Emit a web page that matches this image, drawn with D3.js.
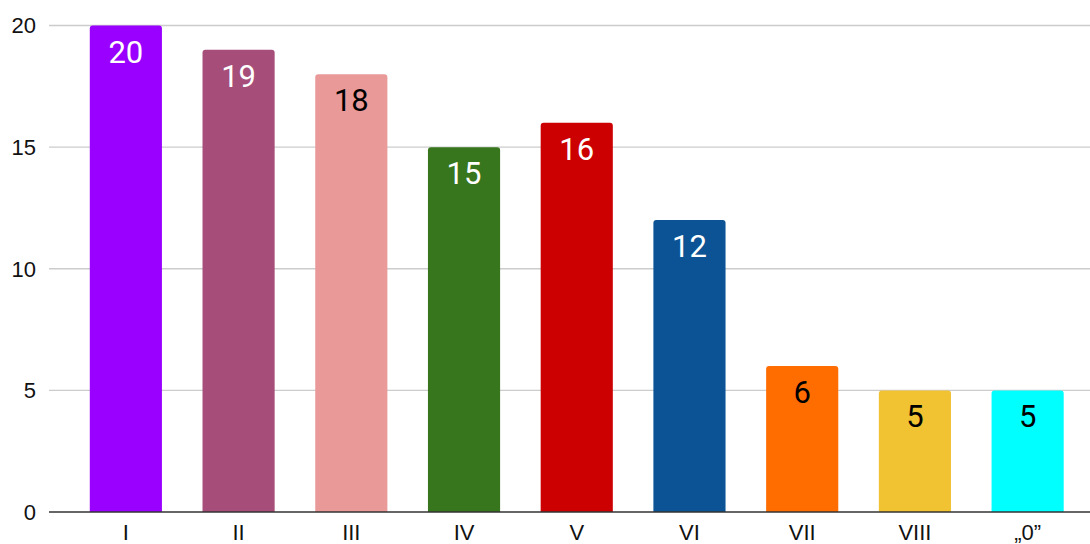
<!doctype html>
<html lang="en">
  <head>
    <meta charset="UTF-8" />
    <title>Bar chart</title>
    <script src="https://d3js.org/d3.v7.min.js"></script>
    <style>
      body {
        margin: 0;
        padding: 0;
        background: #ffffff;
      }
      .axis-label {
        font-family: 'Liberation Sans', Arial, sans-serif;
        font-size: 22px;
        fill: #111111;
      }
      .bar-label {
        font-family: Roboto, sans-serif;
        font-size: 31px;
      }
    </style>
  </head>
  <body>
    <div id="chart"></div>
    <script>
      // Data
      const categories = ['I', 'II', 'III', 'IV', 'V', 'VI', 'VII', 'VIII', '„0”']
      const values = [20, 19, 18, 15, 16, 12, 6, 5, 5]
      const colors = [
        '#9900ff', '#a64d79', '#ea9999', '#38761d', '#cc0000',
        '#0b5394', '#ff6d01', '#f1c232', '#00ffff',
      ]
      const labelColors = [
        '#ffffff', '#ffffff', '#000000', '#ffffff', '#ffffff',
        '#ffffff', '#000000', '#000000', '#000000',
      ]
      const yTicks = [0, 5, 10, 15, 20]

      const width = 1090
      const height = 544
      const plotLeft = 49

      const svg = d3
        .select('#chart')
        .append('svg')
        .attr('width', width)
        .attr('height', height)

      const x = d3
        .scaleBand()
        .domain(categories)
        .range([69.5, 1084])
        .paddingInner(0.36)
        .paddingOuter(0.18)

      const y = d3.scaleLinear().domain([0, 20]).range([512, 25.5])

      // Gridlines
      svg
        .selectAll('.grid')
        .data(yTicks.filter((d) => d !== 0))
        .enter()
        .append('line')
        .attr('x1', plotLeft)
        .attr('x2', width)
        .attr('y1', (d) => y(d))
        .attr('y2', (d) => y(d))
        .attr('stroke', '#cccccc')
        .attr('stroke-width', 1.3)

      // Y tick labels
      svg
        .selectAll('.ytick')
        .data(yTicks)
        .enter()
        .append('text')
        .attr('class', 'axis-label')
        .attr('x', 36)
        .attr('y', (d) => y(d))
        .attr('dy', '0.36em')
        .attr('text-anchor', 'end')
        .text((d) => d)

      // Bars with rounded top corners
      const r = 3
      const bars = categories.map((c, i) => ({ cat: c, value: values[i], color: colors[i], label: labelColors[i] }))

      svg
        .selectAll('.bar')
        .data(bars)
        .enter()
        .append('path')
        .attr('fill', (d) => d.color)
        .attr('d', (d) => {
          const x0 = x(d.cat)
          const x1 = x0 + x.bandwidth()
          const yt = y(d.value)
          const yb = y(0)
          return `M${x0},${yb} L${x0},${yt + r} Q${x0},${yt} ${x0 + r},${yt} L${x1 - r},${yt} Q${x1},${yt} ${x1},${yt + r} L${x1},${yb} Z`
        })

      // Bar value labels
      svg
        .selectAll('.bar-label')
        .data(bars)
        .enter()
        .append('text')
        .attr('class', 'bar-label')
        .attr('x', (d) => x(d.cat) + x.bandwidth() / 2)
        .attr('y', (d) => y(d.value) + 37)
        .attr('text-anchor', 'middle')
        .attr('fill', (d) => d.label)
        .text((d) => d.value)

      // Baseline
      svg
        .append('line')
        .attr('x1', plotLeft)
        .attr('x2', width)
        .attr('y1', y(0))
        .attr('y2', y(0))
        .attr('stroke', '#333333')
        .attr('stroke-width', 1.5)

      // X labels
      svg
        .selectAll('.xlabel')
        .data(categories)
        .enter()
        .append('text')
        .attr('class', 'axis-label')
        .attr('x', (d) => x(d) + x.bandwidth() / 2)
        .attr('y', 540)
        .attr('text-anchor', 'middle')
        .text((d) => d)
    </script>
  </body>
</html>
